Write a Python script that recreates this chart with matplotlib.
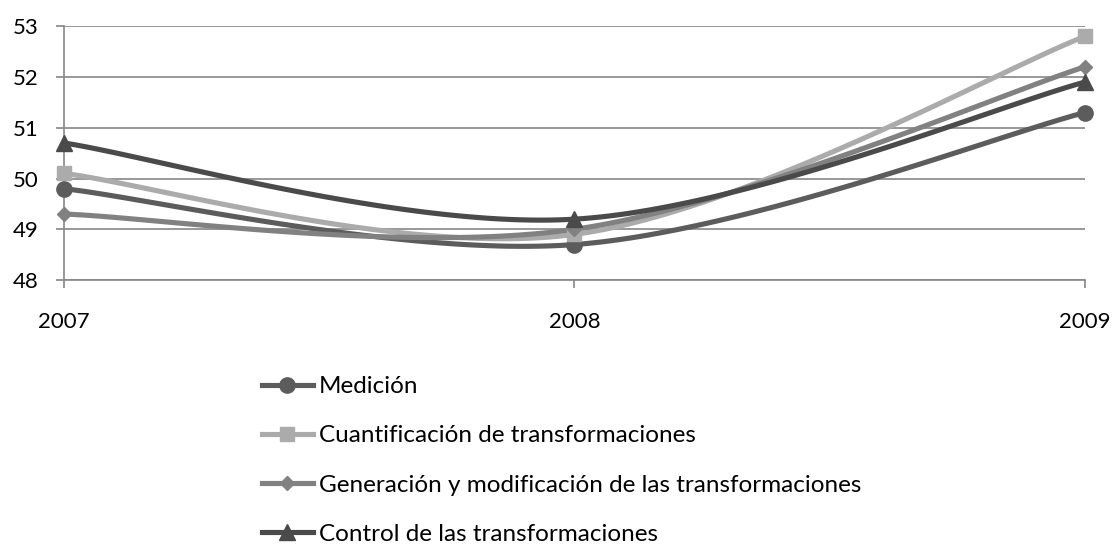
import numpy as np
import matplotlib
matplotlib.use('Agg')
import matplotlib.pyplot as plt
from matplotlib.lines import Line2D

plt.rcParams['font.family'] = ['Lato', 'DejaVu Sans']

years = ['2007', '2008', '2009']
medicion = [49.8, 48.7, 51.3]
cuantificacion = [50.1, 48.9, 52.8]
generacion = [49.3, 49.0, 52.2]
control = [50.7, 49.2, 51.9]

series = [
    ('Medición', medicion, '#5c5c5c', 'o', 11),
    ('Cuantificación de transformaciones', cuantificacion, '#ababab', 's', 10),
    ('Generación y modificación de las transformaciones', generacion, '#818181', 'D', 7.5),
    ('Control de las transformaciones', control, '#4a4a4a', '^', 11),
]


def smooth(xs, ys, n=60):
    # bezier smoothing like the spreadsheet "smoothed line"
    pts = np.column_stack([xs, ys]).astype(float)
    out = []
    for i in range(len(pts) - 1):
        p0 = pts[i - 1] if i > 0 else pts[i]
        p1 = pts[i]
        p2 = pts[i + 1]
        p3 = pts[i + 2] if i + 2 < len(pts) else pts[i + 1]
        c1 = p1 + (p2 - p0) / 6.0
        c2 = p2 - (p3 - p1) / 6.0
        t = np.linspace(0, 1, n)[:, None]
        seg = ((1 - t) ** 3) * p1 + 3 * ((1 - t) ** 2) * t * c1 + 3 * (1 - t) * t ** 2 * c2 + t ** 3 * p2
        out.append(seg if i == 0 else seg[1:])
    seg = np.vstack(out)
    return seg[:, 0], seg[:, 1]


fig = plt.figure(figsize=(11.17, 5.46), dpi=100)
ax = fig.add_axes([0.0573, 0.487, 0.914, 0.465])

x = np.arange(len(years))
handles = []
for name, vals, col, mk, ms in series:
    sx, sy = smooth(x, vals)
    ax.plot(sx, sy, color=col, lw=3.7, solid_capstyle='round', zorder=3)
    ax.plot(x, vals, ls='none', marker=mk, color=col, ms=ms, zorder=4, clip_on=False)
    handles.append(Line2D([], [], color=col, lw=3.7, marker=mk, ms=ms, label=name))

ax.set_xlim(0, 2)
ax.set_ylim(48, 53)
ax.set_yticks([48, 49, 50, 51, 52, 53])
ax.set_xticks(x)
ax.set_xticklabels(years)
ax.grid(axis='y', color='#868686', lw=1.2)
ax.set_axisbelow(True)
for s in ['top', 'right']:
    ax.spines[s].set_visible(False)
ax.spines['left'].set_color('#868686')
ax.spines['bottom'].set_color('#868686')
ax.spines['left'].set_linewidth(1.2)
ax.spines['bottom'].set_linewidth(1.2)
ax.tick_params(axis='both', colors='#868686', labelcolor='black', labelsize=16,
               length=6, width=1.2)
ax.tick_params(axis='x', pad=17)
ax.tick_params(axis='y', pad=12)

fig.legend(handles=handles, loc='upper left', bbox_to_anchor=(0.2258, 0.329),
           frameon=False, fontsize=17.5, handlelength=2.1, handletextpad=0.25,
           labelspacing=1.16, borderaxespad=0)

fig.savefig('out.png', dpi=100)
